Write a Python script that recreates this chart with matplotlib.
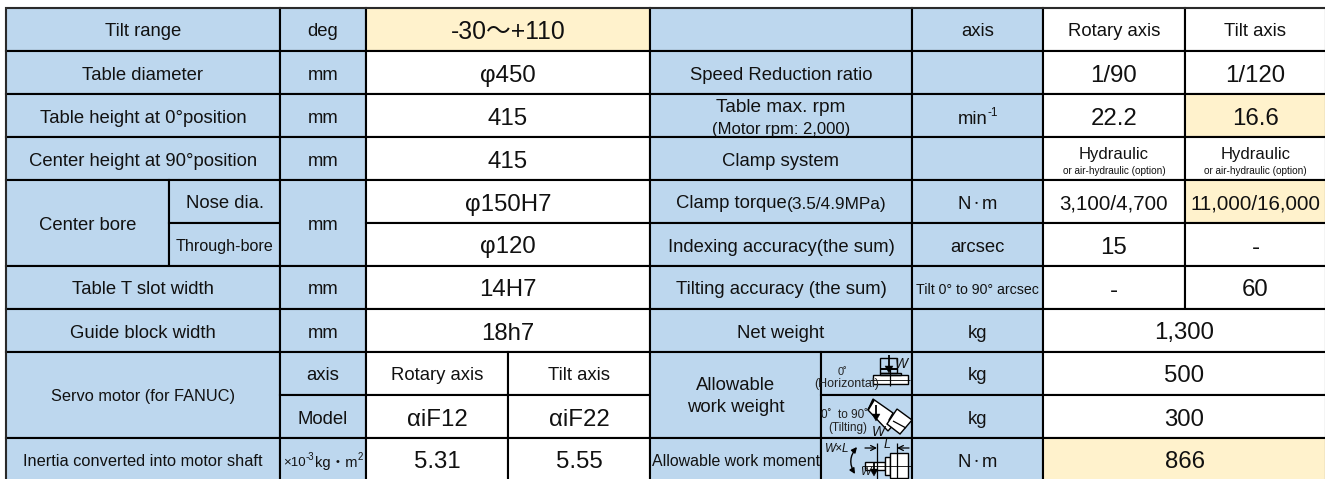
import matplotlib
matplotlib.use("Agg")
import matplotlib.pyplot as plt
from matplotlib.patches import Rectangle, Polygon

FAM = ['Liberation Sans', 'Noto Sans CJK JP', 'DejaVu Sans']
plt.rcParams['font.family'] = FAM

BLUE = '#BDD7EE'
YEL = '#FFF2CC'
WHITE = '#FFFFFF'
INK = '#111111'
W, H = 1325, 479

col_edges = [6, 169, 280, 366, 508, 650, 821, 912, 1043, 1185, 1326]
row_edges = [7.5, 51, 94, 137, 180, 223, 266, 309, 352, 395, 438, 481]

# (row0, row1, col0, col1, text, size, fill)
L, V = 13.3, 17.3
cells = [
    (0, 1, 0, 2, 'Tilt range', L, BLUE),
    (1, 2, 0, 2, 'Table diameter', L, BLUE),
    (2, 3, 0, 2, 'Table height at 0°position', L, BLUE),
    (3, 4, 0, 2, 'Center height at 90°position', L, BLUE),
    (4, 6, 0, 1, 'Center bore', L, BLUE),
    (4, 5, 1, 2, 'Nose dia.', L, BLUE),
    (5, 6, 1, 2, 'Through-bore', 11.6, BLUE),
    (6, 7, 0, 2, 'Table T slot width', L, BLUE),
    (7, 8, 0, 2, 'Guide block width', L, BLUE),
    (8, 10, 0, 2, 'Servo motor (for FANUC)', 11.8, BLUE),
    (10, 11, 0, 2, 'Inertia converted into motor shaft', 11.8, BLUE),
    (0, 1, 2, 3, 'deg', L, BLUE),
    (1, 2, 2, 3, 'mm', L, BLUE),
    (2, 3, 2, 3, 'mm', L, BLUE),
    (3, 4, 2, 3, 'mm', L, BLUE),
    (4, 6, 2, 3, 'mm', L, BLUE),
    (6, 7, 2, 3, 'mm', L, BLUE),
    (7, 8, 2, 3, 'mm', L, BLUE),
    (8, 9, 2, 3, 'axis', L, BLUE),
    (9, 10, 2, 3, 'Model', L, BLUE),
    (10, 11, 2, 3, '', L, BLUE),
    (0, 1, 3, 5, '-30～+110', 17.8, YEL),
    (1, 2, 3, 5, 'φ450', V, WHITE),
    (2, 3, 3, 5, '415', V, WHITE),
    (3, 4, 3, 5, '415', V, WHITE),
    (4, 5, 3, 5, 'φ150H7', V, WHITE),
    (5, 6, 3, 5, 'φ120', V, WHITE),
    (6, 7, 3, 5, '14H7', V, WHITE),
    (7, 8, 3, 5, '18h7', V, WHITE),
    (8, 9, 3, 4, 'Rotary axis', L, WHITE),
    (8, 9, 4, 5, 'Tilt axis', L, WHITE),
    (9, 10, 3, 4, 'αiF12', V, WHITE),
    (9, 10, 4, 5, 'αiF22', V, WHITE),
    (10, 11, 3, 4, '5.31', V, WHITE),
    (10, 11, 4, 5, '5.55', V, WHITE),
    (0, 1, 5, 7, '', L, BLUE),
    (1, 2, 5, 7, 'Speed Reduction ratio', L, BLUE),
    (2, 3, 5, 7, '', L, BLUE),
    (3, 4, 5, 7, 'Clamp system', L, BLUE),
    (4, 5, 5, 7, '', L, BLUE),
    (5, 6, 5, 7, 'Indexing accuracy(the sum)', L, BLUE),
    (6, 7, 5, 7, 'Tilting accuracy (the sum)', L, BLUE),
    (7, 8, 5, 7, 'Net weight', L, BLUE),
    (8, 10, 5, 6, '', L, BLUE),
    (8, 9, 6, 7, '', L, BLUE),
    (9, 10, 6, 7, '', L, BLUE),
    (10, 11, 5, 6, 'Allowable work moment', 11.4, BLUE),
    (10, 11, 6, 7, '', L, BLUE),
    (0, 1, 7, 8, 'axis', L, BLUE),
    (1, 2, 7, 8, '', L, BLUE),
    (2, 3, 7, 8, '', L, BLUE),
    (3, 4, 7, 8, '', L, BLUE),
    (4, 5, 7, 8, '', L, BLUE),
    (5, 6, 7, 8, 'arcsec', L, BLUE),
    (6, 7, 7, 8, 'Tilt 0° to 90° arcsec', 10.2, BLUE),
    (7, 8, 7, 8, 'kg', L, BLUE),
    (8, 9, 7, 8, 'kg', L, BLUE),
    (9, 10, 7, 8, 'kg', L, BLUE),
    (10, 11, 7, 8, '', L, BLUE),
    (0, 1, 8, 9, 'Rotary axis', L, WHITE),
    (0, 1, 9, 10, 'Tilt axis', L, WHITE),
    (1, 2, 8, 9, '1/90', V, WHITE),
    (1, 2, 9, 10, '1/120', V, WHITE),
    (2, 3, 8, 9, '22.2', V, WHITE),
    (2, 3, 9, 10, '16.6', V, YEL),
    (3, 4, 8, 9, '', L, WHITE),
    (3, 4, 9, 10, '', L, WHITE),
    (4, 5, 8, 9, '3,100/4,700', 14.8, WHITE),
    (4, 5, 9, 10, '11,000/16,000', 14.8, YEL),
    (5, 6, 8, 9, '15', V, WHITE),
    (5, 6, 9, 10, '-', V, WHITE),
    (6, 7, 8, 9, '-', V, WHITE),
    (6, 7, 9, 10, '60', V, WHITE),
    (7, 8, 8, 10, '1,300', V, WHITE),
    (8, 9, 8, 10, '500', V, WHITE),
    (9, 10, 8, 10, '300', V, WHITE),
    (10, 11, 8, 10, '866', V, YEL),
]

fig = plt.figure(figsize=(W / 100, H / 100), dpi=100)
ax = fig.add_axes([0, 0, 1, 1])
ax.set_xlim(0, W)
ax.set_ylim(H, 0)
ax.axis('off')
rend = fig.canvas.get_renderer()


def label(x, y, s, size, **kw):
    kw.setdefault('ha', 'center')
    kw.setdefault('color', INK)
    return ax.text(x, y, s, va='center_baseline', fontsize=size, **kw)


def runs(x, y, parts, center=True):
    """Place (text, size, dy) pieces next to one another on one line."""
    items = [label(0, y + dy, s, size, ha='left') for s, size, dy in parts]
    widths = [t.get_window_extent(rend).width for t in items]
    cur = x - sum(widths) / 2 if center else x
    for t, w_ in zip(items, widths):
        t.set_x(cur)
        cur += w_


for r0, r1, c0, c1, txt, size, fill in cells:
    x0, x1 = col_edges[c0], col_edges[c1]
    y0, y1 = row_edges[r0], row_edges[r1]
    ax.add_patch(Rectangle((x0, y0), x1 - x0, y1 - y0, facecolor=fill,
                           edgecolor='black', linewidth=1.5))
    if txt:
        label((x0 + x1) / 2, (y0 + y1) / 2 + 0.5, txt, size)


def two_line(r, c0, c1, top, tsize, bottom, bsize, dy0, dy1):
    x = (col_edges[c0] + col_edges[c1]) / 2
    y = (row_edges[r] + row_edges[r + 1]) / 2
    label(x, y + dy0, top, tsize)
    label(x, y + dy1, bottom, bsize)


two_line(2, 5, 7, 'Table max. rpm', 13.7, '(Motor rpm: 2,000)', 12, -10, 12)
two_line(3, 8, 9, 'Hydraulic', 12, 'or air-hydraulic (option)', 7.2, -5, 11)
two_line(3, 9, 10, 'Hydraulic', 12, 'or air-hydraulic (option)', 7.2, -5, 11)

runs(676, 202, [('Clamp torque', L, 0), ('(3.5/4.9MPa)', 12.4, 0.5)], center=False)
runs(977.5, 116, [('min', L, 1), ('-1', 8.5, -5)])
runs(323, 460, [('×10', 9.5, 1), ('-3', 7, -4), ('kg・m', 10.5, 1), ('2', 7, -4)])
runs(977.5, 202, [('N', L, 0.5), ('・', 8, 0.5), ('m', L, 0.5)])
runs(977.5, 460, [('N', L, 0.5), ('・', 8, 0.5), ('m', L, 0.5)])

label(735.5, 383, 'Allowable', L)
label(735.5, 406, 'work weight', L)

# small captions next to the icons
CAP = '#222222'
label(842, 371, '0˚', 8, color=CAP)
label(847, 382, '(Horizontal)', 9, color=CAP)
label(845, 413, '0˚  to 90˚', 8.5, color=CAP)
label(848, 426, '(Tilting)', 8.5, color=CAP)


def seg(xs, ys, lw=0.9):
    ax.plot(xs, ys, color='black', lw=lw, solid_capstyle='butt')


def rect(x, y, w, h, lw=1.0, fc='none'):
    ax.add_patch(Rectangle((x, y), w, h, facecolor=fc, edgecolor='black', linewidth=lw))


def poly(pts, fc='none', lw=1.0):
    ax.add_patch(Polygon(pts, closed=True, facecolor=fc, edgecolor='black', linewidth=lw))


def arrow_down(x, y0, y1):
    seg([x, x], [y0, y1 - 6], 1.3)
    poly([[x - 4, y1 - 7], [x + 4, y1 - 7], [x, y1]], fc='black', lw=0.3)


# icon: horizontal table
rect(880, 358, 17, 15)
seg([880, 897], [369, 369], 1.4)
rect(873, 375, 35, 9, fc='white')
rect(880, 373, 21, 2)
seg([870, 910], [379.5, 379.5], 0.6)
seg([890, 890], [369, 386], 0.9)
arrow_down(889, 355, 373)
label(901, 363, 'W', 10, style='italic')

# icon: tilted table
poly([[873, 399], [893, 413], [889, 420], [894, 424], [888, 431], [868, 410]], fc='white')
seg([868, 874], [410, 400], 1.4)
poly([[897, 409], [912, 420], [900, 434], [887, 424]], fc='white')
seg([893, 906], [421, 428], 0.9)
arrow_down(876, 405, 421)
label(878, 431, 'W', 10, style='italic')

# icon: moment
label(837, 448, 'W×L', 8.5, style='italic')
seg([877, 877], [443, 479], 0.9)
seg([897, 897], [443, 479], 0.9)
ax.annotate('', xy=(877, 448), xytext=(865, 448),
            arrowprops=dict(arrowstyle='->', color='black', lw=0.9, mutation_scale=9, shrinkA=0, shrinkB=0))
ax.annotate('', xy=(897, 448), xytext=(909, 448),
            arrowprops=dict(arrowstyle='->', color='black', lw=0.9, mutation_scale=9, shrinkA=0, shrinkB=0))
label(887, 443, 'L', 9, style='italic')
rect(865, 462, 20, 8, fc='white')
rect(885, 457, 5, 18, fc='white')
rect(890, 453, 18, 25, fc='white')
seg([862, 912], [466, 466], 0.6)
arrow_down(874, 462, 476)
label(865, 471, 'W', 8, style='italic')
ax.annotate('', xy=(855, 474), xytext=(857, 447),
            arrowprops=dict(arrowstyle='<|-|>', color='black', lw=1.0,
                            connectionstyle='arc3,rad=0.35', mutation_scale=8,
                            shrinkA=0, shrinkB=0))

# left and top outline in dark grey
ax.plot([col_edges[0], col_edges[0]], [row_edges[0], H], color='#333333', lw=1.2)
ax.plot([col_edges[0], W], [row_edges[0], row_edges[0]], color='#333333', lw=1.2)

fig.savefig('out.png', dpi=100)
